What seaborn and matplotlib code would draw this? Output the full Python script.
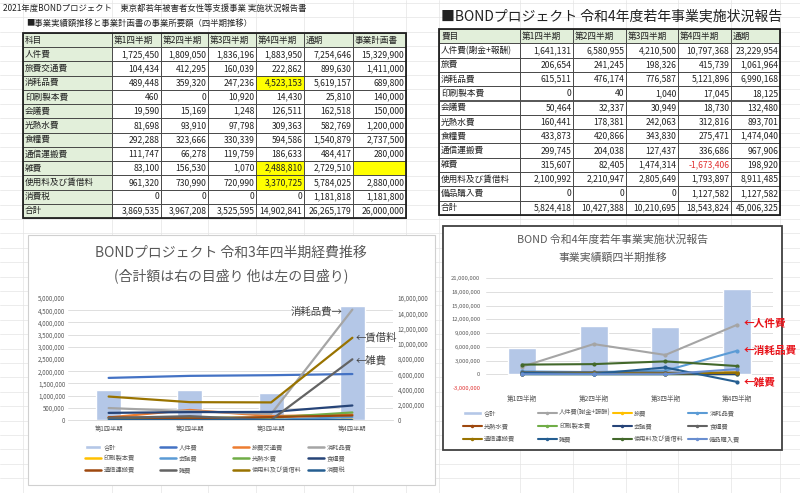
import numpy as np
import pandas as pd
import matplotlib
matplotlib.use('Agg')
import matplotlib.pyplot as plt
from matplotlib.patches import Rectangle, Patch
from matplotlib.lines import Line2D
from matplotlib.ticker import MultipleLocator
import seaborn as sns

# ---- data: 令和3年 (2021) ----
quarters = ['第1四半期', '第2四半期', '第3四半期', '第4四半期']
r3_items = ['人件費', '旅費交通費', '消耗品費', '印刷製本費', '会議費', '光熱水費',
            '食糧費', '通信運搬費', '雑費', '使用料及び賃借料', '消費税']
r3_q1 = [1725450, 104434, 489448, 460, 19590, 81698, 292288, 111747, 83100, 961320, 0]
r3_q2 = [1809050, 412295, 359320, 0, 15169, 93910, 323666, 66278, 156530, 730990, 0]
r3_q3 = [1836196, 160039, 247236, 10920, 1248, 97798, 330339, 119759, 1070, 720990, 0]
r3_q4 = [1883950, 222862, 4523153, 14430, 126511, 309363, 594586, 186633, 2488810, 3370725, 0]
r3_year = [7254646, 899630, 5619157, 25810, 162518, 582769, 1540879, 484417, 2729510, 5784025, 1181818]
r3_plan = [15329900, 1411000, 689800, 140000, 150000, 1200000, 2737500, 280000, None, 2880000, 1181800]
r3_total = [3869535, 3967208, 3525595, 14902841]
r3_total_year = 26265179
r3_total_plan = 26000000

# ---- data: 令和4年 (2022) ----
r4_items = ['人件費(謝金+報酬)', '旅費', '消耗品費', '印刷製本費', '会議費', '光熱水費',
            '食糧費', '通信運搬費', '雑費', '使用料及び賃借料', '備品購入費']
r4_q1 = [1641131, 206654, 615511, 0, 50464, 160441, 433873, 299745, 315607, 2100992, 0]
r4_q2 = [6580955, 241245, 476174, 40, 32337, 178381, 420866, 204038, 82405, 2210947, 0]
r4_q3 = [4210500, 198326, 776587, 1040, 30949, 242063, 343830, 127437, 1474314, 2805649, 0]
r4_q4 = [10797368, 415739, 5121896, 17045, 18730, 312816, 275471, 336686, -1673406, 1793897, 1127582]
r4_year = [23229954, 1061964, 6990168, 18125, 132480, 893701, 1474040, 967906, 198920, 8911485, 1127582]
r4_total = [5824418, 10427388, 10210695, 18543824]
r4_total_year = 45006325
r4_chart_order = ['人件費(謝金+報酬)', '旅費', '消耗品費', '光熱水費', '印刷製本費', '会議費',
                  '食糧費', '通信運搬費', '雑費', '使用料及び賃借料', '備品購入費']

r3_colors = {'人件費': '#4472C4', '旅費交通費': '#ED7D31', '消耗品費': '#A5A5A5',
             '印刷製本費': '#FFC000', '会議費': '#5B9BD5', '光熱水費': '#70AD47',
             '食糧費': '#264478', '通信運搬費': '#9E480E', '雑費': '#636363',
             '使用料及び賃借料': '#997300', '消費税': '#255E91'}
r4_colors = {'人件費(謝金+報酬)': '#A5A5A5', '旅費': '#FFC000', '消耗品費': '#5B9BD5',
             '光熱水費': '#9E480E', '印刷製本費': '#70AD47', '会議費': '#264478',
             '食糧費': '#636363', '通信運搬費': '#997300', '雑費': '#255E91',
             '使用料及び賃借料': '#43682B', '備品購入費': '#698ED0'}
bar_color = '#B4C7E7'

sns.set_style('white')
plt.rcParams['font.family'] = ['Noto Sans CJK JP', 'DejaVu Sans']

W, H = 800, 493


def frac(x0, y0, x1, y1):
    return [x0 / W, 1 - y1 / H, (x1 - x0) / W, (y1 - y0) / H]


def fmt(v):
    return '' if v is None else f'{v:,}'


fig = plt.figure(figsize=(8, 4.93), dpi=100)
bg = fig.add_axes([0, 0, 1, 1])
bg.set_xlim(0, W)
bg.set_ylim(H, 0)
bg.axis('off')

# excel sheet grid
for y in np.arange(3, H, 14.4):
    bg.axhline(y, color='#E4E4E4', lw=0.5, zorder=0)
for x in [23, 112, 161, 208, 256, 304, 353, 406, 439, 520, 573, 626, 678, 731, 780]:
    bg.axvline(x, color='#E4E4E4', lw=0.5, zorder=0)


def draw_table(x_edges, y0, row_h, rows, label_col_fill, fills, colors, fs):
    for r, row in enumerate(rows):
        ya = y0 + r * row_h
        for c, val in enumerate(row):
            xa, xb = x_edges[c], x_edges[c + 1]
            fc = fills.get((r, c))
            if fc is None:
                fc = '#E2EFDA' if r == 0 or (c == 0 and label_col_fill) else 'white'
            bg.add_patch(Rectangle((xa, ya), xb - xa, row_h, facecolor=fc,
                                   edgecolor='#3A3A3A', lw=0.6, zorder=2))
            col = colors.get((r, c), '#222222')
            if r == 0 or c == 0:
                bg.text(xa + 2, ya + row_h / 2, val, ha='left', va='center',
                        fontsize=fs, color=col, zorder=3)
            else:
                bg.text(xb - 1.5, ya + row_h / 2, val, ha='right', va='center',
                        fontsize=fs, color=col, zorder=3)
    bg.add_patch(Rectangle((x_edges[0], y0), x_edges[-1] - x_edges[0], row_h * len(rows),
                           facecolor='none', edgecolor='#222222', lw=1.3, zorder=4))


# left table
bg.text(3, 8, '2021年度BONDプロジェクト　東京都若年被害者女性等支援事業 実施状況報告書',
        fontsize=6, va='center', color='#222222')
bg.text(26, 23, '■事業実績額推移と事業計画書の事業所要額（四半期推移）',
        fontsize=6, va='center', color='#222222')
rows3 = [['科目'] + quarters + ['通期', '事業計画書']]
for i, name in enumerate(r3_items):
    rows3.append([name, fmt(r3_q1[i]), fmt(r3_q2[i]), fmt(r3_q3[i]), fmt(r3_q4[i]),
                  fmt(r3_year[i]), fmt(r3_plan[i])])
rows3.append(['合計'] + [fmt(v) for v in r3_total] + [fmt(r3_total_year), fmt(r3_total_plan)])
yellow = '#FFFF00'
fills3 = {(3, 4): yellow, (9, 4): yellow, (10, 4): yellow, (9, 6): yellow}
draw_table([23, 112, 161, 208, 256, 304, 353, 406], 33, 14.23, rows3, True, fills3, {}, 6.2)

# right table
bg.text(441, 16, '■BONDプロジェクト 令和4年度若年事業実施状況報告', fontsize=10,
        va='center', color='#222222')
rows4 = [['費目'] + quarters + ['通期']]
for i, name in enumerate(r4_items):
    rows4.append([name, fmt(r4_q1[i]), fmt(r4_q2[i]), fmt(r4_q3[i]), fmt(r4_q4[i]),
                  fmt(r4_year[i])])
rows4.append(['合計'] + [fmt(v) for v in r4_total] + [fmt(r4_total_year)])
colors4 = {(9, 4): '#E03030'}
draw_table([439, 520, 573, 626, 678, 731, 780], 29, 14.3, rows4, False, {}, colors4, 6.2)

pos = np.arange(4)
grey_txt = '#595959'

# ---- left chart ----
bg.add_patch(Rectangle((28, 235), 407, 250, facecolor='white', edgecolor='#D0D0D0',
                       lw=0.8, zorder=5))
bg.text(231, 253, 'BONDプロジェクト 令和3年四半期経費推移', fontsize=10, ha='center',
        va='center', color=grey_txt, zorder=6)
bg.text(231, 276, '(合計額は右の目盛り 他は左の目盛り)', fontsize=10, ha='center',
        va='center', color=grey_txt, zorder=6)

ax_l = fig.add_axes(frac(68, 298, 393, 420))
ax_r = ax_l.twinx()
sns.barplot(x=pos, y=r3_total, ax=ax_r, color=bar_color, width=0.31, saturation=1)
ax_r.set_ylim(0, 16e6)
ax_r.yaxis.set_major_locator(MultipleLocator(2e6))
ax_r.yaxis.set_minor_locator(MultipleLocator(1.6e6))
ax_r.set_yticks(ax_r.get_yticks(), [f'{int(v):,}' for v in ax_r.get_yticks()])
ax_r.set_ylim(0, 16e6)
ax_r.grid(which='minor', axis='y', color='#D9D9D9', lw=0.6)
ax_r.grid(which='major', visible=False)
ax_r.set_axisbelow(True)
ax_r.tick_params(axis='y', which='both', length=0, labelsize=4.5, labelcolor=grey_txt, pad=3.5)
ax_r.set_ylabel('')

ax_l.set_zorder(ax_r.get_zorder() + 1)
ax_l.patch.set_visible(False)
for name in r3_items:
    i = r3_items.index(name)
    vals = [r3_q1[i], r3_q2[i], r3_q3[i], r3_q4[i]]
    sns.lineplot(x=pos, y=vals, ax=ax_l, color=r3_colors[name], linewidth=1.6,
                 errorbar=None, sort=False)
ax_l.set_ylim(0, 5e6)
lt = np.arange(0, 5.0e6 + 1, 5e5)
ax_l.set_yticks(lt, [f'{int(v):,}' for v in lt])
ax_l.set_xticks(pos, quarters)
ax_l.set_xlim(-0.5, 3.5)
ax_l.tick_params(axis='y', length=0, labelsize=4.5, labelcolor=grey_txt, pad=2)
ax_l.tick_params(axis='x', length=0, labelsize=4.5, labelcolor=grey_txt, pad=4)
for a in (ax_l, ax_r):
    for s in a.spines.values():
        s.set_visible(False)
ax_l.spines['bottom'].set_visible(True)
ax_l.spines['bottom'].set_color('#D9D9D9')
ax_l.spines['bottom'].set_linewidth(0.6)

i_s = r3_items.index('消耗品費')
i_c = r3_items.index('使用料及び賃借料')
i_z = r3_items.index('雑費')
ax_l.text(2.88, r3_q4[i_s] - 0.9e5, '消耗品費→', fontsize=7.5, ha='right', va='center',
          color='#404040', clip_on=False)
ax_l.text(3.04, r3_q4[i_c], '←賃借料', fontsize=7.5, ha='left', va='center',
          color='#404040', clip_on=False)
ax_l.text(3.04, r3_q4[i_z] - 0.6e5, '←雑費', fontsize=7.5, ha='left', va='center',
          color='#404040', clip_on=False)

h3 = [Patch(facecolor=bar_color)] + [Line2D([], [], color=r3_colors[n], lw=1.8) for n in r3_items]
l3 = ['合計'] + r3_items
for c, x in enumerate([85, 160, 233, 308]):
    idx = [c, c + 4, c + 8]
    fig.legend([h3[k] for k in idx], [l3[k] for k in idx], loc='upper left',
               bbox_to_anchor=(x / W, 1 - 443 / H), frameon=False, fontsize=4.5,
               handlelength=2.6, handletextpad=0.4, labelspacing=0.55,
               borderpad=0, borderaxespad=0, labelcolor=grey_txt)

# ---- right chart ----
bg.add_patch(Rectangle((443, 226), 339, 224, facecolor='white', edgecolor='#404040',
                       lw=1.3, zorder=5))
bg.text(613, 240, 'BOND 令和4年度若年事業実施状況報告', fontsize=7.8, ha='center',
        va='center', color=grey_txt, zorder=6)
bg.text(613, 258, '事業実績額四半期推移', fontsize=7.8, ha='center', va='center',
        color=grey_txt, zorder=6)

ax4 = fig.add_axes(frac(486, 278, 773, 388))
sns.barplot(x=pos, y=r4_total, ax=ax4, color=bar_color, width=0.39, saturation=1)
for name in r4_chart_order:
    i = r4_items.index(name)
    vals = [r4_q1[i], r4_q2[i], r4_q3[i], r4_q4[i]]
    sns.lineplot(x=pos, y=vals, ax=ax4, color=r4_colors[name], linewidth=1.5,
                 marker='o', markersize=3, markeredgewidth=0, errorbar=None, sort=False)
rt = np.arange(-3e6, 21e6 + 1, 3e6)
ax4.set_yticks(rt, [f'{int(v):,}' for v in rt])
ax4.set_ylim(-3e6, 21e6)
ax4.set_xticks(pos, quarters)
ax4.set_xlim(-0.5, 3.5)
ax4.set_ylabel('')
ax4.grid(axis='y', color='#D9D9D9', lw=0.6)
ax4.set_axisbelow(True)
ax4.tick_params(axis='y', length=0, labelsize=4.2, labelcolor=grey_txt, pad=4)
ax4.tick_params(axis='x', length=0, labelsize=4.8, labelcolor=grey_txt, pad=5)
for lbl in ax4.get_yticklabels():
    if lbl.get_text().startswith('-'):
        lbl.set_color('#E03030')
for s in ax4.spines.values():
    s.set_visible(False)

red = '#E8141B'
for name, dy in [('人件費(謝金+報酬)', 0.2e6), ('消耗品費', 0), ('雑費', -0.2e6)]:
    i = r4_items.index(name)
    short = '人件費' if name.startswith('人件費') else name
    ax4.text(3.09, r4_q4[i] + dy, '←' + short, fontsize=7.7, fontweight='bold',
             ha='left', va='center', color=red, clip_on=False)

h4 = [Patch(facecolor=bar_color)] + [Line2D([], [], color=r4_colors[n], lw=1.5, marker='o',
                                            markersize=2.5, markeredgewidth=0)
                                     for n in r4_chart_order]
l4 = ['合計'] + r4_chart_order
for c, x in enumerate([463, 538, 613, 688]):
    idx = [c, c + 4, c + 8]
    fig.legend([h4[k] for k in idx], [l4[k] for k in idx], loc='upper left',
               bbox_to_anchor=(x / W, 1 - 409 / H), frameon=False, fontsize=4.5,
               handlelength=3.0, handletextpad=0.4, labelspacing=0.8,
               borderpad=0, borderaxespad=0, labelcolor=grey_txt)

fig.savefig('out.png', dpi=100)
